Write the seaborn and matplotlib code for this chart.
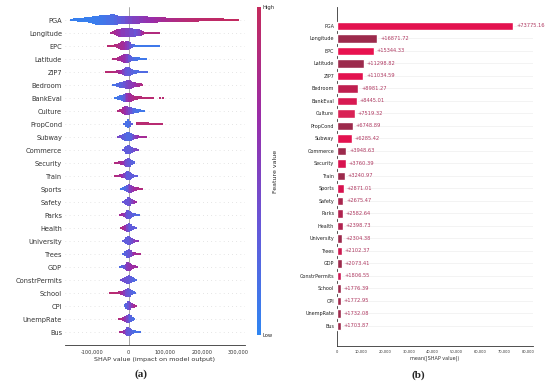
import numpy as np
import pandas as pd
import seaborn as sns
import matplotlib.pyplot as plt
from matplotlib.path import Path
from matplotlib.colors import LinearSegmentedColormap
from matplotlib.cm import ScalarMappable
from matplotlib.ticker import FuncFormatter

# features, top to bottom
features = ["PGA", "Longitude", "EPC", "Latitude", "ZIP7", "Bedroom", "BankEval",
            "Culture", "PropCond", "Subway", "Commerce", "Security", "Train",
            "Sports", "Safety", "Parks", "Health", "University", "Trees", "GDP",
            "ConstrPermits", "School", "CPI", "UnempRate", "Bus"]

# panel (b): mean(|SHAP value|)
mean_abs_shap = [73775.16, 16871.72, 15344.33, 11298.82, 11034.59, 8981.27, 8445.01,
                 7519.32, 6748.89, 6285.42, 3948.63, 3760.39, 3240.97, 2871.01,
                 2675.47, 2582.64, 2398.73, 2304.38, 2102.37, 2073.41, 1806.55,
                 1776.39, 1772.95, 1732.08, 1703.87]
bar_colors = ["#e3124f", "#9c2a4c", "#e8124f", "#9c2a4c", "#e3124f", "#bf1f4f",
              "#d81a52", "#d92255", "#9c2a4c", "#e3124f", "#9c2a4c", "#d8124f",
              "#9c2a4c", "#d8124f", "#a8264e", "#b0224f", "#b0224f", "#9c2a4c",
              "#cc1a50", "#9c2a4c", "#cc1a55", "#9c2a4c", "#a0284c", "#9c2a4c",
              "#9c2a4c"]

pga_bins = [(-155, 1, .05), (-145, 2, .05), (-135, 3, .05), (-125, 4, .05), (-115, 6, .05),
            (-105, 9, .06), (-95, 11, .07), (-85, 13, .08), (-75, 14, .1), (-65, 15, .12),
            (-55, 15, .15), (-45, 16, .18), (-35, 14, .22), (-25, 12, .28), (-15, 11, .33),
            (-5, 12, .4), (5, 12, .45), (15, 11, .5), (25, 11, .53), (35, 10, .56), (45, 10, .6),
            (55, 9, .63), (65, 8, .66), (75, 7, .7), (85, 6, .72), (95, 6, .75), (105, 5, .78),
            (115, 5, .8), (125, 4, .82), (135, 4, .84), (145, 4, .86), (155, 3, .88),
            (165, 3, .9), (175, 3, .9), (185, 3, .92), (195, 2, .92), (205, 2, .93),
            (215, 2, .94), (225, 2, .95), (235, 2, .95), (245, 2, .96), (255, 2, .96),
            (265, 1, .97), (275, 1, .97), (285, 1, .98), (295, 1, .98)]
longitude_bins = [(-47, 2, .8), (-42, 4, .8), (-37, 8, .75), (-32, 12, .7), (-27, 14, .65),
                  (-22, 15, .6), (-17, 16, .55), (-12, 16, .55), (-7, 16, .5), (-2, 16, .5),
                  (3, 16, .45), (8, 16, .4), (13, 15, .4), (18, 14, .35), (23, 12, .4),
                  (28, 12, .45), (33, 10, .55), (38, 6, .7), (43, 3, .85), (48, 2, .85),
                  (53, 2, .85), (58, 2, .85), (63, 2, .85), (68, 2, .85), (73, 2, .85),
                  (78, 1, .85), (83, 1, .85)]
epc_bins = [(-57, 1, .9), (-52, 2, .9), (-47, 2, .9), (-42, 3, .9), (-37, 4, .85), (-32, 6, .85),
            (-27, 10, .8), (-22, 14, .75), (-17, 16, .75), (-12, 14, .7), (-7, 16, .6),
            (-2, 16, .5), (3, 12, .4), (8, 6, .3), (13, 4, .2), (18, 3, .15), (23, 2, .1),
            (28, 2, .1), (33, 2, .1), (38, 2, .1), (43, 2, .1), (48, 2, .1), (53, 2, .1),
            (58, 2, .1), (63, 1, .1), (68, 1, .1), (73, 1, .1), (78, 1, .1), (83, 1, .1)]
latitude_bins = [(-43, 2, .85), (-38, 2, .85), (-33, 3, .85), (-28, 5, .8), (-23, 8, .75),
                 (-18, 12, .7), (-13, 16, .65), (-8, 16, .6), (-3, 16, .5), (2, 12, .35),
                 (7, 8, .25), (12, 7, .2), (17, 6, .15), (22, 5, .15), (27, 4, .12),
                 (32, 3, .1), (37, 3, .1), (42, 2, .1), (47, 1, .1)]
zip7_bins = [(-61, 1, .9), (-56, 2, .9), (-51, 2, .9), (-46, 3, .88), (-41, 3, .85), (-36, 3, .85),
             (-31, 4, .8), (-26, 5, .75), (-21, 7, .65), (-16, 10, .5), (-11, 14, .4),
             (-6, 16, .35), (-1, 16, .3), (4, 14, .3), (9, 10, .25), (14, 7, .25), (19, 5, .2),
             (24, 4, .2), (29, 3, .2), (34, 3, .2), (39, 2, .2), (44, 2, .2), (49, 1, .2)]
bedroom_bins = [(-43, 2, .15), (-38, 3, .15), (-33, 5, .2), (-28, 7, .2), (-23, 9, .25),
                (-18, 11, .3), (-13, 12, .35), (-8, 14, .4), (-3, 16, .45), (2, 16, .5),
                (7, 14, .55), (12, 10, .6), (17, 8, .65), (22, 6, .7), (27, 5, .75),
                (32, 4, .8), (37, 2, .85)]
bankeval_bins = [(-38, 2, .1), (-33, 3, .1), (-28, 5, .12), (-23, 8, .15), (-18, 10, .2),
                 (-13, 14, .3), (-8, 16, .45), (-3, 16, .6), (2, 16, .7), (7, 14, .75),
                 (12, 10, .8), (17, 6, .85), (22, 5, .85), (27, 4, .88), (32, 4, .88),
                 (37, 3, .9), (42, 3, .9), (47, 3, .9), (52, 2, .9), (57, 2, .9), (62, 2, .9),
                 (67, 1, .9), (85, 1, .9), (94, 1, .9)]
culture_bins = [(-29, 2, .85), (-24, 4, .85), (-19, 7, .8), (-14, 12, .75), (-9, 16, .65),
                (-4, 16, .55), (1, 14, .45), (6, 12, .35), (11, 10, .25), (16, 8, .2),
                (21, 6, .15), (26, 5, .15), (31, 4, .12), (36, 3, .1), (41, 2, .1)]
propcond_bins = [(-12, 3, .2), (-7, 10, .15), (-2, 16, .15), (3, 10, .2), (8, 3, .3),
                 (22, 4, .9), (27, 4, .9), (32, 4, .9), (37, 4, .9), (42, 4, .9), (47, 4, .9),
                 (52, 4, .9), (57, 3, .9), (62, 3, .9), (67, 3, .9), (72, 3, .9), (77, 3, .9),
                 (82, 3, .9), (87, 2, .9), (92, 2, .9)]
subway_bins = [(-29, 2, .45), (-24, 4, .4), (-19, 6, .35), (-14, 10, .3), (-9, 14, .25),
               (-4, 16, .2), (1, 16, .2), (6, 14, .25), (11, 10, .35), (16, 7, .45),
               (21, 5, .55), (26, 4, .65), (31, 3, .7), (36, 3, .75), (41, 2, .75), (46, 1, .75)]
commerce_bins = [(-16, 3, .35), (-11, 8, .3), (-6, 14, .3), (-1, 16, .3), (4, 14, .3),
                 (9, 10, .35), (14, 6, .4), (19, 4, .45), (24, 2, .5)]
security_bins = [(-36, 2, .85), (-31, 3, .85), (-26, 4, .8), (-21, 5, .75), (-16, 7, .65),
                 (-11, 10, .5), (-6, 14, .4), (-1, 16, .35), (4, 14, .3), (9, 8, .25), (14, 4, .25)]
train_bins = [(-38, 2, .85), (-33, 3, .85), (-28, 3, .8), (-23, 4, .75), (-18, 6, .65),
              (-13, 8, .5), (-8, 12, .4), (-3, 16, .3), (2, 14, .3), (7, 10, .3), (12, 6, .3),
              (17, 3, .3), (21, 2, .3)]
sports_bins = [(-20, 2, .1), (-15, 4, .15), (-10, 8, .2), (-5, 12, .3), (0, 16, .4), (5, 14, .5),
               (10, 10, .6), (15, 7, .7), (20, 5, .75), (25, 4, .8), (30, 3, .85), (35, 2, .85)]
safety_bins = [(-16, 3, .35), (-11, 6, .35), (-6, 10, .35), (-1, 16, .35), (4, 14, .4),
               (9, 8, .5), (14, 5, .6), (19, 3, .7)]
parks_bins = [(-23, 2, .75), (-18, 4, .7), (-13, 7, .6), (-8, 10, .45), (-3, 16, .35),
              (2, 14, .3), (7, 9, .3), (12, 6, .25), (17, 4, .25), (22, 3, .2), (27, 2, .2)]
health_bins = [(-20, 3, .85), (-15, 5, .8), (-10, 9, .65), (-5, 14, .45), (0, 16, .35),
               (5, 12, .3), (10, 7, .3), (15, 4, .3), (20, 2, .3)]
university_bins = [(-16, 3, .3), (-11, 7, .3), (-6, 12, .3), (-1, 16, .3), (4, 14, .35),
                   (9, 9, .4), (14, 5, .5), (19, 3, .55), (24, 2, .6)]
trees_bins = [(-14, 3, .2), (-9, 8, .25), (-4, 14, .3), (1, 16, .35), (6, 12, .45),
              (11, 7, .6), (16, 4, .7), (21, 3, .75), (26, 2, .8), (30, 1, .8)]
gdp_bins = [(-23, 2, .2), (-18, 4, .25), (-13, 7, .35), (-8, 11, .45), (-3, 16, .55),
            (2, 14, .6), (7, 10, .65), (12, 6, .7), (17, 4, .7), (21, 2, .7)]
constr_bins = [(-20, 3, .4), (-15, 6, .4), (-10, 10, .38), (-5, 14, .35), (0, 16, .35),
               (5, 12, .3), (10, 8, .25), (15, 5, .2), (20, 3, .2)]
school_bins = [(-52, 1, .9), (-47, 2, .9), (-42, 2, .9), (-37, 2, .9), (-32, 3, .88),
               (-27, 4, .85), (-22, 5, .8), (-17, 7, .7), (-12, 10, .55), (-7, 14, .4),
               (-2, 16, .35), (3, 14, .3), (8, 8, .25), (13, 4, .2), (16, 2, .2)]
cpi_bins = [(-11, 4, .2), (-6, 10, .25), (-1, 16, .35), (4, 14, .45), (9, 8, .6),
            (14, 5, .75), (19, 3, .8)]
unemp_bins = [(-25, 2, .85), (-20, 3, .85), (-15, 6, .75), (-10, 10, .6), (-5, 14, .45),
              (0, 16, .35), (5, 12, .25), (10, 6, .2), (15, 3, .15)]
bus_bins = [(-23, 2, .8), (-18, 3, .75), (-13, 6, .6), (-8, 10, .45), (-3, 16, .35),
            (2, 14, .3), (7, 9, .25), (12, 6, .2), (17, 4, .15), (22, 3, .15), (27, 2, .15),
            (30, 1, .15)]

swarm_bins = [pga_bins, longitude_bins, epc_bins, latitude_bins, zip7_bins, bedroom_bins,
              bankeval_bins, culture_bins, propcond_bins, subway_bins, commerce_bins,
              security_bins, train_bins, sports_bins, safety_bins, parks_bins, health_bins,
              university_bins, trees_bins, gdp_bins, constr_bins, school_bins, cpi_bins,
              unemp_bins, bus_bins]

shap_cmap = LinearSegmentedColormap.from_list(
    "shap_like", ["#2f86f2", "#6657d8", "#9a2ca8", "#c42a5c"])

# flat horizontal marker so neighbouring bins merge into a swarm
dash = Path([(-1, -0.5), (1, -0.5), (1, 0.5), (-1, 0.5), (-1, -0.5)],
            [Path.MOVETO, Path.LINETO, Path.LINETO, Path.LINETO, Path.CLOSEPOLY])

sns.set_style("white")
plt.rcParams['font.family'] = ['DejaVu Sans']

fig = plt.figure(figsize=(5.5, 3.87), dpi=100)
axa = fig.add_axes([0.118, 0.1085, 0.327, 0.8734])
cax = fig.add_axes([0.4665, 0.134, 0.0075, 0.848])
axb = fig.add_axes([0.6127, 0.106, 0.3564, 0.876])

n = len(features)
for i, bins in enumerate(swarm_bins):
    pos = n - 1 - i
    counts = [b[1] for b in bins]
    xs = np.repeat([b[0] * 1000 for b in bins], counts)
    vs = np.repeat([b[2] for b in bins], counts)
    # shap-style layering: stack points of one bin around the row centre
    ys = np.zeros(len(xs))
    layer, last = 0, None
    for j, x in enumerate(xs):
        if x != last:
            layer = 0
        ys[j] = np.ceil(layer / 2) * ((layer % 2) * 2 - 1)
        layer += 1
        last = x
    ys = ys * 0.34 / max(np.abs(ys).max(), 1)
    step = bins[1][0] - bins[0][0]
    df = pd.DataFrame({"shap": xs, "y": pos + ys, "val": vs})
    axa.axhline(pos, color="#cccccc", lw=0.5, dashes=(1, 5), zorder=-1)
    sns.scatterplot(data=df, x="shap", y="y", hue="val", palette=shap_cmap, hue_norm=(0, 1),
                    marker=dash, s=(step * 0.34) ** 2, linewidth=0, edgecolor="none",
                    legend=False, ax=axa, zorder=3)

axa.axvline(0, color="#999999", lw=0.6, zorder=-1)
axa.set_xlim(-175000, 318000)
axa.set_ylim(-1, n)
axa.set_yticks(range(n))
axa.set_yticklabels(features[::-1], fontsize=4.8, color="#333333")
axa.set_xticks([-100000, 0, 100000, 200000, 300000])
axa.xaxis.set_major_formatter(FuncFormatter(lambda v, p: f"{v:,.0f}"))
axa.tick_params(axis="x", labelsize=3.6, length=2, width=0.5, pad=1.5, colors="#333333")
axa.tick_params(axis="y", length=0, pad=2)
axa.set_xlabel("SHAP value (impact on model output)", fontsize=4.6, color="#333333", labelpad=1.5)
axa.set_ylabel("")
for side in ["left", "top", "right"]:
    axa.spines[side].set_visible(False)
axa.spines["bottom"].set_linewidth(0.6)
axa.spines["bottom"].set_color("#333333")

cb = fig.colorbar(ScalarMappable(cmap=shap_cmap, norm=plt.Normalize(0, 1)), cax=cax)
cb.set_ticks([0, 1])
cb.set_ticklabels(["Low", "High"])
cb.outline.set_visible(False)
cax.tick_params(length=0, labelsize=3.8, pad=1)
cb.set_label("Feature value", fontsize=4.5, labelpad=-1)

# panel (b)
sns.barplot(x=mean_abs_shap, y=features, hue=features, palette=bar_colors, legend=False,
            orient="h", width=0.65, saturation=1, ax=axb, zorder=3)
for c in axb.containers:
    axb.bar_label(c, fmt="+%.2f", padding=2, fontsize=3.7, color="#b03a62")
for pos in range(n):
    axb.axhline(pos, color="#eeeeee", lw=0.5, zorder=0)
axb.set_xlim(0, 82000)
axb.set_ylim(n - 1 + 1.6, -1.52)
axb.set_xticks(range(0, 80001, 10000))
axb.xaxis.set_major_formatter(FuncFormatter(lambda v, p: f"{v:,.0f}"))
axb.tick_params(axis="x", labelsize=2.6, length=2, width=0.5, pad=1.2, colors="#333333")
axb.tick_params(axis="y", labelsize=3.5, length=0, pad=2, colors="#222222")
axb.set_xlabel("mean(|SHAP value|)", fontsize=3.5, color="#333333", labelpad=1)
for side in ["top", "right"]:
    axb.spines[side].set_visible(False)
for side in ["left", "bottom"]:
    axb.spines[side].set_linewidth(0.6)
    axb.spines[side].set_color("#333333")

fig.text(141 / 550, 1 - 374 / 387, "(a)", ha="center", va="center", fontsize=8,
         fontweight="bold", family="Liberation Serif")
fig.text(418 / 550, 1 - 375 / 387, "(b)", ha="center", va="center", fontsize=8,
         fontweight="bold", family="Liberation Serif")

fig.savefig("out.png", dpi=100)
